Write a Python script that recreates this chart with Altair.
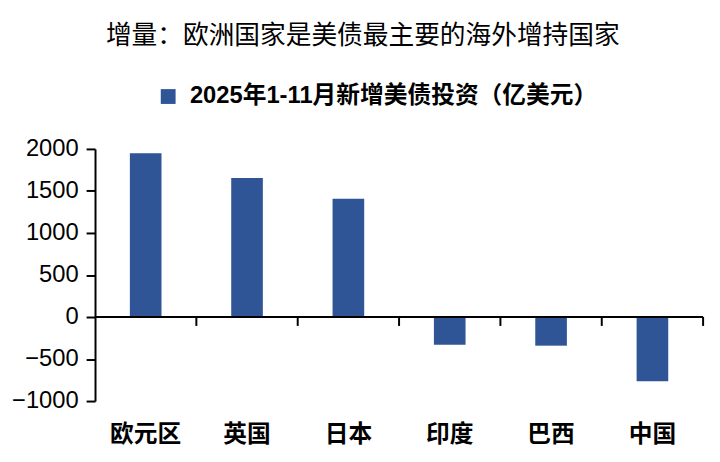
import altair as alt
import pandas as pd

# ---- data ----
categories = ["欧元区", "英国", "日本", "印度", "巴西", "中国"]
values = [1950, 1655, 1408, -329, -341, -765]
series_name = "2025年1-11月新增美债投资（亿美元）"
title_text = "增量：欧洲国家是美债最主要的海外增持国家"
y_ticks = [-1000, -500, 0, 500, 1000, 1500, 2000]
y_domain = [-1000, 2000]

df = pd.DataFrame({"国家": categories, "值": values, "系列": [series_name] * len(categories)})
zero_df = pd.DataFrame({"y": [0]})

bar_color = "#2F5597"
latin_font = "Liberation Sans, Arial, Noto Sans CJK SC"
cjk_font = "Noto Sans CJK SC"

x_scale = alt.Scale(paddingInner=0, paddingOuter=0)

bars = alt.Chart(df).mark_bar(width=32).encode(
    x=alt.X(
        "国家:N",
        sort=categories,
        scale=x_scale,
        axis=alt.Axis(
            title=None,
            labelAngle=0,
            domain=False,
            ticks=False,
            tickSize=0,
            labelPadding=22,
            labelFont=cjk_font,
            labelFontSize=24,
            labelFontWeight="bold",
            labelColor="black",
        ),
    ),
    y=alt.Y(
        "值:Q",
        scale=alt.Scale(domain=y_domain, nice=False),
        axis=alt.Axis(
            values=y_ticks,
            format="d",
            title=None,
            grid=False,
            domainColor="black",
            domainWidth=2,
            tickColor="black",
            tickWidth=2,
            tickSize=9,
            labelPadding=8,
            labelFont=latin_font,
            labelFontSize=24,
            labelColor="black",
        ),
    ),
    color=alt.Color(
        "系列:N",
        scale=alt.Scale(range=[bar_color]),
        legend=alt.Legend(
            title=None,
            orient="none",
            legendX=62,
            legendY=-65,
            symbolType="square",
            symbolSize=225,
            symbolStrokeWidth=0,
            labelFont=latin_font,
            labelFontSize=24,
            labelFontWeight="bold",
            labelColor="black",
            labelOffset=10,
            labelLimit=0,
            padding=0,
        ),
    ),
)

zero_line = alt.Chart(zero_df).mark_rule(color="black", strokeWidth=2).encode(
    y=alt.Y("y:Q")
)

tick_marks = alt.Chart(df).mark_rule(color="black", strokeWidth=2).encode(
    x=alt.X("国家:N", sort=categories, scale=x_scale, bandPosition=1),
    y=alt.datum(0),
    y2=alt.datum(-106),
)

chart = (
    alt.layer(bars, zero_line, tick_marks)
    .properties(
        width=615,
        height=255,
        title=alt.TitleParams(
            text=title_text,
            anchor="start",
            frame="group",
            dx=11,
            offset=36,
            font=cjk_font,
            fontSize=26,
            fontWeight="normal",
            color="black",
        ),
        autosize=alt.AutoSizeParams(type="none"),
        padding={"left": 88, "top": 140, "right": 9, "bottom": 50},
    )
    .configure_view(stroke=None)
)

chart.save("out.html", embed_options={"renderer": "svg", "actions": False})
